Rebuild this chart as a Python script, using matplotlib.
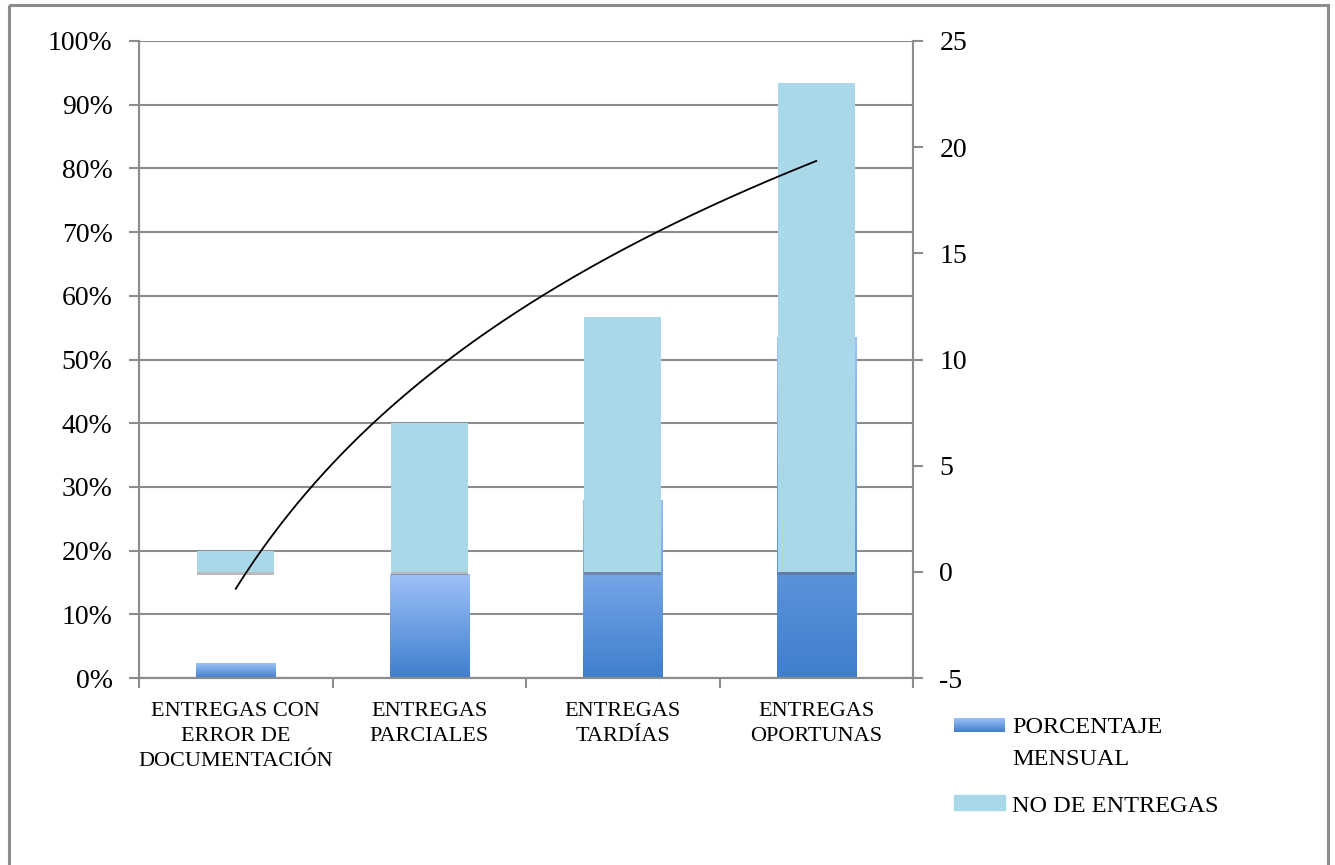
import numpy as np
import matplotlib
matplotlib.use('Agg')
from matplotlib import pyplot as plt
from matplotlib.patches import Rectangle
from matplotlib.colors import LinearSegmentedColormap
import matplotlib.patheffects as pe

# datos
categorias = ['ENTREGAS CON\nERROR DE\nDOCUMENTACIÓN', 'ENTREGAS\nPARCIALES',
              'ENTREGAS\nTARDÍAS', 'ENTREGAS\nOPORTUNAS']
no_entregas = [1, 7, 12, 23]
porcentaje = [0.023, 0.163, 0.279, 0.535]

plt.rcParams['font.family'] = ['Liberation Serif', 'DejaVu Serif']
plt.rcParams['axes.unicode_minus'] = False

azul_claro = '#a9d8e9'
grad = LinearSegmentedColormap.from_list('g', ['#3f7fcd', '#9dc0f8'])
gris = '#8c8c8c'

fig = plt.figure(figsize=(13.35, 8.65), dpi=100)
ax = fig.add_axes([139/1335, 187/865, 774/1335, 637/865])
ax2 = ax.twinx()

ind = np.arange(len(categorias))
w = 0.4

# barras de porcentaje con degradado (eje izquierdo)
grad_img = np.linspace(0, 1, 256).reshape(-1, 1)
bars = ax.bar(ind, porcentaje, w + 0.01, color='none', edgecolor='none', zorder=2)
for b in bars:
    x0, h = b.get_x(), b.get_height()
    im = ax.imshow(grad_img, cmap=grad, origin='lower', aspect='auto',
                   extent=(x0, x0 + b.get_width(), 0, h), zorder=2)
    im.set_clip_path(b)
    b.set_path_effects([pe.SimplePatchShadow(offset=(0, -2), shadow_rgbFace='#777777', alpha=0.35)])

# numero de entregas (eje derecho)
sh = [pe.SimplePatchShadow(offset=(0, -2.5), shadow_rgbFace='#666666', alpha=0.45), pe.Normal()]
ax2.bar(ind, no_entregas, w, color=azul_claro, zorder=2, path_effects=sh)

# linea de tendencia logaritmica
a, b0 = np.polyfit(np.log(ind + 1), no_entregas, 1)
xs = np.linspace(1, 4, 200)
ax2.plot(xs - 1, a * np.log(xs) + b0, color='black', lw=1.3, zorder=3)

ax.set_xlim(-0.5, 3.5)
ax.set_ylim(0, 1)
ax2.set_ylim(-5, 25)
ax.set_yticks(np.arange(0, 1.01, 0.1))
ax.set_yticklabels(['%d%%' % round(v * 100) for v in np.arange(0, 1.01, 0.1)])
ax2.set_yticks(np.arange(-5, 26, 5))
ax.yaxis.grid(True, color=gris, lw=1.5, zorder=0)
ax.set_axisbelow(True)

ax.set_xticks(np.arange(-0.5, 3.6, 1))
ax.set_xticklabels([])
ax.set_xticks(ind, minor=True)
ax.set_xticklabels(categorias, minor=True, fontsize=16, linespacing=1.45)
ax.tick_params(axis='x', which='minor', length=0, pad=17)
ax.tick_params(axis='x', which='major', length=7, width=1.5, color=gris)
ax.tick_params(axis='y', length=7, width=1.5, color=gris, labelsize=20, pad=12)
ax2.tick_params(axis='y', length=7, width=1.5, color=gris, labelsize=20, pad=12)

for a_ in (ax, ax2):
    for s in a_.spines.values():
        s.set_color(gris)
        s.set_linewidth(1.5)
    a_.spines['top'].set_visible(False)

# leyenda y marco
lax = fig.add_axes([0, 0, 1, 1], zorder=-1)
lax.axis('off')
lax.add_patch(Rectangle((9, 5), 1319, 900, fill=False, edgecolor=gris, lw=2.2))
lax.imshow(grad_img, cmap=grad, origin='lower', aspect='auto', extent=(954, 1005, 732, 718))
lax.add_patch(Rectangle((954, 795), 51, 15, color=azul_claro))
lax.set_xlim(0, 1335)
lax.set_ylim(865, 0)
lax.text(1012, 733, 'PORCENTAJE', fontsize=17.5, va='baseline')
lax.text(1012, 765, 'MENSUAL', fontsize=17.5, va='baseline')
lax.text(1012, 812, 'NO DE ENTREGAS', fontsize=17.5, va='baseline')

fig.savefig('out.png', dpi=100)
